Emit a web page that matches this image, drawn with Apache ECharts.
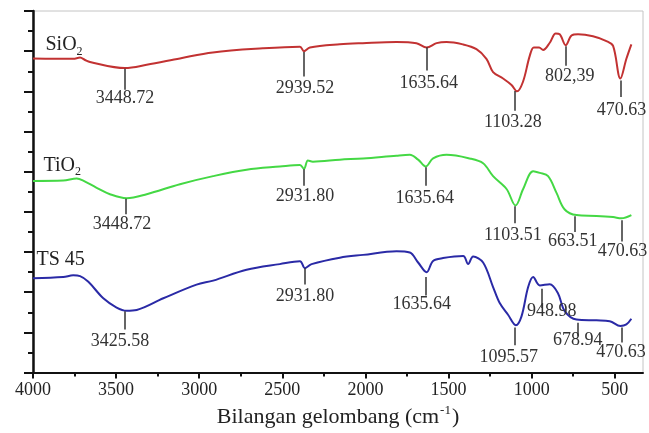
<!DOCTYPE html>
<html><head><meta charset="utf-8">
<script src="https://cdn.jsdelivr.net/npm/echarts@6/dist/echarts.min.js"></script>
<style>html,body{margin:0;padding:0;background:#fff}#c{width:649px;height:433px}</style>
</head><body><div id="c"></div>
<script>
// ---- data (wavenumber cm^-1, relative transmittance, offset per sample) ----
const wnSiO2 = [4000,3758,3717,3687,3657,3447,3316,3116,2918,2617,2394,2370,2334,2154,2016,1813,1693,1632,1572,1512,1414,1332,1272,1232,1172,1121,1088,1052,1011,987,955,931,891,855,831,795,760,721,631,550,510,466,430,400];
const tSiO2  = [78.2,78.1,78.4,77.8,77.3,75.8,76.6,78.2,79.7,80.7,81.1,80.0,80.9,81.7,82.0,82.3,82.0,80.9,82.0,82.3,81.7,80.5,78.1,74.8,73.2,71.6,70.0,72.4,78.9,80.9,80.9,80.3,82.1,84.4,84.2,81.5,83.9,84.2,83.7,82.5,81.3,73.2,78.1,81.7];
const wnTiO2 = [4000,3818,3737,3698,3617,3537,3437,3316,3116,2916,2715,2515,2394,2370,2346,2316,2154,2014,1813,1733,1683,1637,1593,1512,1372,1292,1232,1151,1097,1051,991,951,901,851,801,730,610,510,460,400];
const tTiO2  = [47.7,47.8,48.3,47.8,46.0,44.4,43.4,44.4,46.9,48.9,50.5,51.3,51.7,50.7,52.8,52.5,53.0,53.3,54.0,54.2,53.0,51.3,53.3,54.2,53.3,52.1,48.9,45.7,41.6,45.7,50.1,49.7,48.9,44.8,40.6,39.2,39.0,38.7,38.4,39.2];
const wnTS45 = [4000,3818,3758,3717,3667,3577,3497,3437,3376,3216,3016,2916,2715,2515,2394,2364,2324,2154,2014,1813,1733,1683,1632,1593,1533,1412,1382,1352,1292,1232,1192,1142,1095,1061,1021,991,951,891,841,801,730,610,530,466,430,400];
const tTS45  = [23.5,23.8,24.2,24.0,22.6,18.5,16.2,15.4,15.6,18.5,21.9,22.9,25.6,27.0,27.7,26.0,27.0,28.6,29.3,30.2,29.9,27.4,25.0,27.8,28.5,29.0,27.0,28.9,27.4,21.3,17.3,14.4,11.8,14.0,21.3,23.8,21.7,22.0,19.7,15.3,13.2,13.0,12.8,11.6,12.0,13.4];

// tick labels
const xTickValues = [500,1000,1500,2000,2500,3000,3500,4000];
const xMinorValues = [750,1250,1750,2250,2750,3250,3750];

// peak annotations: text, marker wavenumber, marker top/bottom, text centre
const pkSiO2 = {
  text:['3448.72','2939.52','1635.64','1103.28','802,39','470.63'],
  wn:[3447,2370,1630,1101,795,464], top:[75.6,79.8,81.0,70.1,81.2,72.7], bot:[70.4,73.7,75.2,65.2,76.4,68.6],
  tWn:[3447,2364,1619,1113,771,460], tV:[68.2,70.8,72.0,62.3,73.7,65.2]
};
const pkTiO2 = {
  text:['3448.72','2931.80','1635.64','1103.51','663.51','470.63'],
  wn:[3440,2370,1637,1101,741,460], top:[43.3,50.6,51.1,41.4,38.9,37.9], bot:[39.4,46.5,46.5,37.2,35.0,32.6],
  tWn:[3465,2364,1643,1113,753,454], tV:[37.0,44.0,43.3,34.3,32.6,30.2]
};
const pkTS45 = {
  text:['3425.58','2931.80','1635.64','1095.57','948.98','678.94','470.63'],
  wn:[3447,2368,1639,1101,941,724,460], top:[15.3,26.0,23.8,11.2,20.9,12.4,11.2], bot:[10.7,21.9,19.2,6.8,16.1,9.2,7.5],
  tWn:[3477,2364,1661,1138,879,723,462], tV:[7.8,19.0,17.0,3.9,15.3,8.0,5.1]
};
const sampleNames = ['SiO2','TiO2','TS 45'];
const sampleLabelPos = [[3928,81.7],[3940,51.6],[3982,28.0]];

const X_MIN = 330, X_MAX = 4000;
const serif = 'Liberation Serif';

function zip(a,b){ return a.map((v,i)=>[v,b[i]]); }

function richName(n){
  if (n === 'SiO2') return '{m|SiO}{s|2}';
  if (n === 'TiO2') return '{m|TiO}{s|2}';
  return '{m|' + n + '}';
}

function makeSeries(name, wn, t, color, pk, lblPos){
  return {
    name, type:'line', data: zip(wn,t), showSymbol:false, smooth:0.35,
    lineStyle:{color, width:2}, itemStyle:{color}, silent:true, animation:false, z:3,
    markLine:{
      silent:true, animation:false, symbol:['none','none'],
      lineStyle:{color:'#333', width:1.5, type:'solid'}, label:{show:false},
      data: pk.wn.map((w,i)=>[{coord:[w,pk.top[i]]},{coord:[w,pk.bot[i]]}])
    },
    markPoint:{
      silent:true, animation:false, symbol:'circle', symbolSize:1,
      itemStyle:{color:'rgba(0,0,0,0)'},
      label:{show:true, position:'inside', color:'#333', fontFamily:serif, fontSize:18,
             formatter:p=>p.name},
      data: pk.text.map((tx,i)=>({name:tx, coord:[pk.tWn[i], pk.tV[i]]})).concat([{
        name: name, coord: lblPos,
        label:{position:'right', distance:0, formatter: richName(name), color:'#222',
          rich:{ m:{fontFamily:serif, fontSize:20, color:'#222'},
                 s:{fontFamily:serif, fontSize:12, color:'#222', padding:[14,0,0,0]} } }
      }])
    }
  };
}

const chart = echarts.init(document.getElementById('c'), null, {renderer:'canvas'});
chart.setOption({
  animation:false,
  backgroundColor:'#fff',
  grid:{left:33, right:6, top:11, bottom:52, show:true, borderColor:'#c4c4c4', borderWidth:1},
  xAxis:[{
    type:'value', inverse:true, min:X_MIN, max:X_MAX, position:'bottom',
    axisLine:{show:true, lineStyle:{color:'#111', width:2}},
    axisTick:{show:true, customValues:xTickValues, length:6, lineStyle:{color:'#111', width:2}},
    axisLabel:{customValues:xTickValues, color:'#222', fontFamily:serif, fontSize:18, margin:9,
               formatter:v=>String(v)},
    splitLine:{show:false},
    name:'Bilangan gelombang (cm{sup|-1})', nameLocation:'middle', nameGap:26,
    nameTextStyle:{fontFamily:serif, fontSize:22, color:'#222',
      rich:{sup:{fontFamily:serif, fontSize:13, color:'#222', padding:[0,1,12,1]}}}
  },{
    type:'value', inverse:true, min:X_MIN, max:X_MAX, position:'bottom',
    axisLine:{show:false},
    axisTick:{show:true, customValues:xMinorValues, length:4, lineStyle:{color:'#111', width:2}},
    axisLabel:{show:false}, splitLine:{show:false}
  }],
  yAxis:{
    type:'value', min:0, max:90, interval:10, position:'left',
    axisLine:{show:true, lineStyle:{color:'#111', width:2.5}},
    axisTick:{show:true, length:9, lineStyle:{color:'#111', width:2}},
    minorTick:{show:true, splitNumber:2, length:5, lineStyle:{color:'#111', width:2}},
    axisLabel:{show:false}, splitLine:{show:false}
  },
  series:[
    makeSeries(sampleNames[0], wnSiO2, tSiO2, '#c23232', pkSiO2, sampleLabelPos[0]),
    makeSeries(sampleNames[1], wnTiO2, tTiO2, '#44d844', pkTiO2, sampleLabelPos[1]),
    makeSeries(sampleNames[2], wnTS45, tTS45, '#2a2aa6', pkTS45, sampleLabelPos[2])
  ]
});
</script></body></html>
